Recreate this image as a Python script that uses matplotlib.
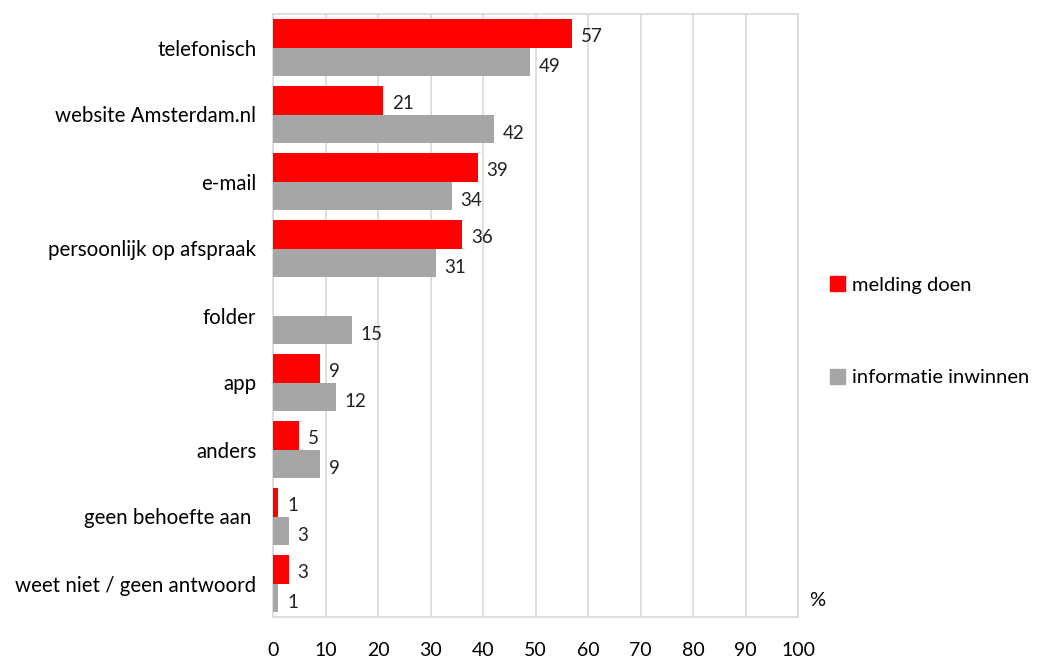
import matplotlib
matplotlib.use("Agg")
import matplotlib.pyplot as plt
import numpy as np
from matplotlib.patches import Patch

categories = ["telefonisch", "website Amsterdam.nl", "e-mail", "persoonlijk op afspraak",
              "folder", "app", "anders", "geen behoefte aan ", "weet niet / geen antwoord"]
melding = [57, 21, 39, 36, None, 9, 5, 1, 3]
informatie = [49, 42, 34, 31, 15, 12, 9, 3, 1]
xticks = [0, 10, 20, 30, 40, 50, 60, 70, 80, 90, 100]

RED = "#ff0000"
GRAY = "#a6a6a6"
plt.rcParams['font.family'] = ['Lato', 'DejaVu Sans']

fig = plt.figure(figsize=(10.44, 6.6), dpi=100)
ax = fig.add_axes([273/1044, 1-617/660, (798-273)/1044, (617-14)/660])

n = len(categories)
y = np.arange(n)
h = 0.43
mvals = np.array([np.nan if v is None else v for v in melding], dtype=float)
ivals = np.array(informatie, dtype=float)

ax.barh(y - h/2, np.nan_to_num(mvals), height=h, color=RED, label="melding doen", zorder=3)
ax.barh(y + h/2, ivals, height=h, color=GRAY, label="informatie inwinnen", zorder=3)

for yi, v in zip(y, mvals):
    if not np.isnan(v):
        ax.text(v + 1.7, yi - h/2 + 0.05, f"{int(v)}", va="center", ha="left", fontsize=13.5, color="#222222")
for yi, v in zip(y, ivals):
    ax.text(v + 1.7, yi + h/2 + 0.07, f"{int(v)}", va="center", ha="left", fontsize=13.5, color="#222222")

ax.set_xlim(0, 100)
ax.set_ylim(n - 0.5, -0.5)
ax.set_xticks(xticks)
ax.set_xticklabels([str(t) for t in xticks], fontsize=14)
ax.set_yticks(y)
ax.set_yticklabels(categories, fontsize=14.8)
ax.tick_params(axis="both", length=0)
ax.tick_params(axis="x", pad=18)
ax.tick_params(axis="y", pad=12)
ax.grid(axis="x", color="#d9d9d9", linewidth=1.2, zorder=0)
for s in ax.spines.values():
    s.set_color("#d9d9d9")
    s.set_linewidth(1.2)

handles = [Patch(color=RED, label="melding doen"), Patch(color=GRAY, label="informatie inwinnen")]
fig.legend(handles=handles, loc="upper left", bbox_to_anchor=(812/1044, 1-258/660),
           frameon=False, fontsize=14.5, labelspacing=3.75, handlelength=0.75, handleheight=0.75,
           handletextpad=0.35)

fig.text(809/1044, 1-601/660, "%", fontsize=14.5, va="center", ha="left")

fig.savefig("out.png", dpi=100)
